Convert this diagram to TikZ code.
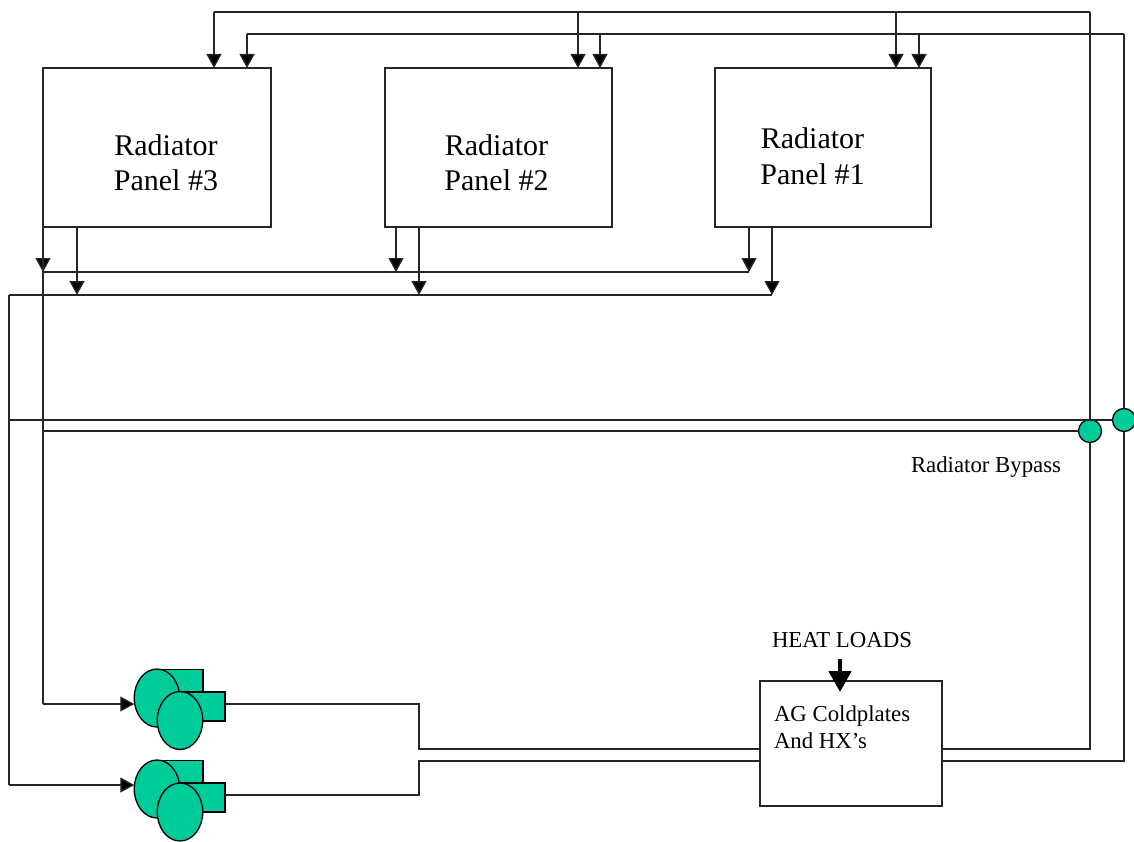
\documentclass[tikz,border=0pt]{standalone}
\usepackage{fontspec}
\setmainfont{Liberation Serif}
\usetikzlibrary{arrows.meta,shapes.geometric}
\definecolor{pumpgreen}{RGB}{0,204,153}
\tikzset{
  x=1pt,y=-1pt,
  every node/.style={inner sep=0pt,outer sep=0pt},
  line/.style={draw=black!85,line width=1.3pt},
  flow/.style={line,-{Triangle[length=14pt,width=15pt,fill=black]}},
  thickflow/.style={draw=black,line width=4.8pt,-{Triangle[length=21pt,width=22pt,fill=black]}},
  panel/.style={draw=black!85,line width=1.3pt,fill=white},
  green/.style={draw=black,line width=1.3pt,fill=pumpgreen},
  valve/.style={green,circle,minimum size=23pt},
  pumpbig/.style={green,ellipse,minimum width=45.5pt,minimum height=58pt},
  pumpbody/.style={green,rectangle,minimum width=46pt},
  biglabel/.style={font=\fontsize{30}{35.5}\selectfont,align=center},
  smalllabel/.style={font=\fontsize{22.8}{27}\selectfont,align=left,anchor=west},
}
\begin{document}
\begin{tikzpicture}
\useasboundingbox (0,0) rectangle (1134,842);
% panels
\node[panel,minimum width=228pt,minimum height=159pt] (p3) at (157,147.5) {};
\node[panel,minimum width=227pt,minimum height=159pt] (p2) at (498.5,147.5) {};
\node[panel,minimum width=216pt,minimum height=159pt] (p1) at (823,147.5) {};
\node[biglabel] (t3) at (166,162.5) {Radiator\\Panel \#3};
\node[biglabel] (t2) at (496.5,162.5) {Radiator\\Panel \#2};
\node[biglabel] (t1) at (812.5,156) {Radiator\\Panel \#1};
\node[panel,minimum width=182pt,minimum height=125pt] (cold) at (851,743.5) {};
\node[smalllabel] (tc) at (774,727.5) {AG Coldplates\\And HX’s};
\node[smalllabel,anchor=center] (heat) at (842,640) {HEAT LOADS};
\node[smalllabel] (bypass) at (911,467) {Radiator Bypass};
% named junctions
\coordinate (a0) at (214,12); \coordinate (a1) at (578,12); \coordinate (a2) at (896,12); \coordinate (a3) at (1090,12);
\coordinate (b0) at (247,34); \coordinate (b1) at (600,34); \coordinate (b2) at (919,34); \coordinate (b3) at (1124,34);
\coordinate (c0) at (43,272); \coordinate (c1) at (396,272); \coordinate (c2) at (749,272);
\coordinate (d00) at (9,295); \coordinate (d0) at (77,295); \coordinate (d1) at (419,295); \coordinate (d2) at (772,295);
\coordinate (e0) at (9,420); \coordinate (f0) at (43,431);
\coordinate (g0) at (43,704); \coordinate (g1) at (9,785);
\coordinate (hs) at (840,659); \coordinate (he) at (840,692);
% top manifolds
\draw[line] (a0) -- (a3);
\draw[line] (b0) -- (b3);
\draw[flow] (a0) -- (a0 |- p3.north);
\draw[flow] (a1) -- (a1 |- p2.north);
\draw[flow] (a2) -- (a2 |- p1.north);
\draw[flow] (b0) -- (b0 |- p3.north);
\draw[flow] (b1) -- (b1 |- p2.north);
\draw[flow] (b2) -- (b2 |- p1.north);
% bottom manifolds
\draw[line] (c0) -- (c2);
\draw[line] (d00) -- (d2);
\draw[flow] (c0 |- p3.south) -- (c0);
\draw[flow] (c1 |- p2.south) -- (c1);
\draw[flow] (c2 |- p1.south) -- (c2);
\draw[flow] (d0 |- p3.south) -- (d0);
\draw[flow] (d1 |- p2.south) -- (d1);
\draw[flow] (d2 |- p1.south) -- (d2);
% valves
\node[valve] (v1) at (1090,431) {};
\node[valve] (v2) at (1124,420) {};
\draw[line] (a3) -- (v1);
\draw[line] (b3) -- (v2);
\draw[line] (e0) -- (v2);
\draw[line] (f0) -- (v1);
% pumps
\node[pumpbody,minimum height=52pt] (r1a) at (180,695.5) {};
\node[pumpbig] (e1a) at (157,698) {};
\node[pumpbody,minimum width=45pt,minimum height=29pt] (r1b) at (202.5,706.5) {};
\node[pumpbig] (e1b) at (180,720.5) {};
\node[pumpbody,minimum height=52pt] (r2a) at (180,786.5) {};
\node[pumpbig] (e2a) at (157,789) {};
\node[pumpbody,minimum width=45pt,minimum height=29pt] (r2b) at (202.5,797.5) {};
\node[pumpbig] (e2b) at (180,812) {};
% pump inlets
\draw[line] (f0 |- p3.south) -- (g0);
\draw[line] (d00) -- (g1);
\draw[flow] (g0) -- (e1a.west |- g0);
\draw[flow] (g1) -- (e2a.west |- g1);
% pump outlets
\coordinate (h1) at (419,704); \coordinate (h2) at (419,749);
\coordinate (i1) at (419,795); \coordinate (i2) at (419,761);
\draw[line] (r1b.east |- h1) -- (h1) -- (h2) -- (cold.west |- h2);
\draw[line] (r2b.east |- i1) -- (i1) -- (i2) -- (cold.west |- i2);
% coldplate outlets
\draw[line] (v1) -- (v1 |- h2) -- (cold.east |- h2);
\draw[line] (v2) -- (v2 |- i2) -- (cold.east |- i2);
\draw[thickflow] (hs) -- (he);
\end{tikzpicture}
\end{document}
